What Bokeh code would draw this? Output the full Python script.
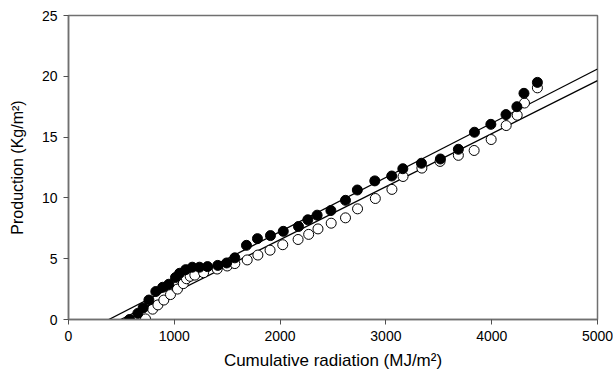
from bokeh.plotting import figure
from bokeh.models import Range1d, FixedTicker
from bokeh.embed import file_html
from bokeh.resources import INLINE

# Filled series (black circles)
filled_x = [577, 655, 705, 760, 825, 890, 948, 1011, 1050, 1108, 1170, 1238, 1314, 1411,
            1495, 1572, 1682, 1786, 1909, 2030, 2174, 2262, 2350, 2480, 2618, 2730, 2895,
            3055, 3160, 3336, 3515, 3685, 3837, 3992, 4135, 4238, 4305, 4432]
filled_y = [0.0, 0.5, 0.95, 1.6, 2.3, 2.65, 2.9, 3.45, 3.8, 4.1, 4.3, 4.3, 4.35, 4.45,
            4.65, 5.07, 6.1, 6.65, 6.9, 7.25, 7.65, 8.2, 8.58, 8.96, 9.8, 10.65, 11.4,
            11.8, 12.4, 12.85, 13.2, 14.0, 15.4, 16.05, 16.85, 17.5, 18.6, 19.5]

# Open series (white circles)
open_x = [658, 728, 795, 845, 901, 964, 1030, 1085, 1115, 1150, 1194, 1277, 1405, 1500,
          1572, 1689, 1790, 1905, 2025, 2170, 2270, 2358, 2483, 2618, 2732, 2900, 3057,
          3162, 3340, 3512, 3685, 3834, 3995, 4137, 4241, 4310, 4432]
open_y = [0.0, 0.05, 0.85, 1.2, 1.6, 2.05, 2.5, 2.95, 3.35, 3.55, 3.65, 3.85, 4.15, 4.4,
          4.6, 4.9, 5.3, 5.7, 6.15, 6.58, 7.0, 7.45, 7.92, 8.36, 9.1, 9.95, 10.7,
          11.76, 12.45, 13.0, 13.5, 13.9, 14.8, 15.95, 16.8, 17.8, 19.05]

# Regression lines (slope, intercept)
fit_filled = (0.00446, -1.70)
fit_open = (0.00436, -2.15)

x_ticks = [0, 1000, 2000, 3000, 4000, 5000]
y_ticks = [0, 5, 10, 15, 20, 25]

FONT = "Liberation Sans"

p = figure(width=613, height=374, output_backend="svg", toolbar_location=None,
           x_range=Range1d(0, 5000), y_range=Range1d(0, 25),
           min_border_left=68, min_border_right=16, min_border_top=15, min_border_bottom=55)
p.background_fill_color = "white"
p.border_fill_color = "white"
p.outline_line_color = "#707070"
p.outline_line_width = 1.5
p.xgrid.visible = False
p.ygrid.visible = False

for ax in (p.xaxis[0], p.yaxis[0]):
    ax.axis_line_color = "#707070"
    ax.axis_line_width = 1.5
    ax.major_tick_line_color = "#505050"
    ax.major_tick_out = 5
    ax.major_tick_in = 0
    ax.minor_tick_line_color = None
    ax.major_label_text_font = FONT
    ax.major_label_text_font_size = "14px"
    ax.major_label_text_color = "black"
    ax.axis_label_text_font = FONT
    ax.axis_label_text_font_style = "normal"
    ax.axis_label_text_color = "black"

p.xaxis.axis_label_text_font_size = "17px"
p.yaxis.axis_label_text_font_size = "16px"
p.xaxis.ticker = FixedTicker(ticks=x_ticks)
p.yaxis.ticker = FixedTicker(ticks=y_ticks)
p.xaxis.axis_label = "Cumulative radiation (MJ/m²)"
p.yaxis.axis_label = "Production (Kg/m²)"
p.xaxis.major_label_standoff = 6
p.yaxis.major_label_standoff = 6
p.xaxis.axis_label_standoff = 7
p.yaxis.axis_label_standoff = 13

for (m, b) in (fit_filled, fit_open):
    x0 = -b / m
    xs = [x0, 5000]
    ys = [m * x + b for x in xs]
    p.line(xs, ys, line_color="black", line_width=1.3)

p.scatter(open_x, open_y, marker="circle", size=10, fill_color="white",
          line_color="black", line_width=1)
p.scatter(filled_x, filled_y, marker="circle", size=10, fill_color="black",
          line_color="black", line_width=1)

open("out.html", "w").write(file_html(p, INLINE))
